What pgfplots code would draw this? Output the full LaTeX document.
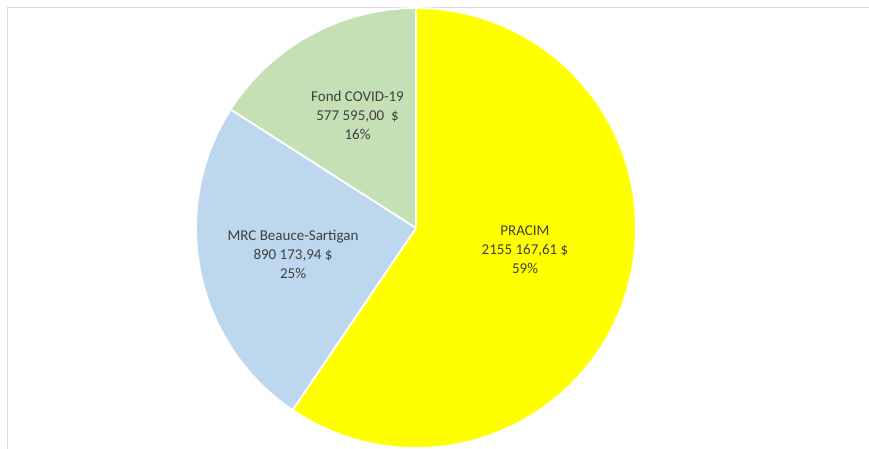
\documentclass[border=0pt]{standalone}
\usepackage{pgfplots}
\usepackage{pgfplotstable}
\pgfplotsset{compat=1.18}
\usepackage{fontspec}
\setmainfont{Carlito}
\definecolor{pieYellow}{HTML}{FFFF00}
\definecolor{pieBlue}{HTML}{BDD7EE}
\definecolor{pieGreen}{HTML}{C5E0B4}
\definecolor{labelGray}{HTML}{404040}
\definecolor{frameGray}{HTML}{D9D9D9}
% values of the three slices
\pgfplotstableread{
label value
PRACIM 2155167.61
MRC 890173.94
Fond 577595.00
}\piedata
\pgfplotstablegetelem{0}{value}\of{\piedata}\let\vA\pgfplotsretval
\pgfplotstablegetelem{1}{value}\of{\piedata}\let\vB\pgfplotsretval
\pgfplotstablegetelem{2}{value}\of{\piedata}\let\vC\pgfplotsretval
\edef\aA{\fpeval{360*\vA/(\vA+\vB+\vC)}}
\edef\aB{\fpeval{360*\vB/(\vA+\vB+\vC)}}
\edef\aC{\fpeval{360*\vC/(\vA+\vB+\vC)}}
\edef\eA{\fpeval{90-\aA}}
\edef\eB{\fpeval{90-\aA-\aB}}
\edef\eC{\fpeval{90-\aA-\aB-\aC}}
\begin{document}
\begin{tikzpicture}
\begin{axis}[
  scale only axis, width=869bp, height=449bp,
  xmin=0, xmax=869, ymin=0, ymax=449,
  hide axis, clip=true,
]
% chart frame
\draw[overlay, frameGray, line width=1.5bp] (axis cs:7.5,0) -- (axis cs:7.5,441.5) -- (axis cs:869,441.5);
% slices
\fill[overlay, pieYellow, draw=white, line width=1.8bp, line join=round] (axis cs:416,221) -- ++(90:220bp) arc[start angle=90, end angle=\eA, radius=220bp] -- cycle;
\fill[overlay, pieBlue, draw=white, line width=1.8bp, line join=round] (axis cs:416,221) -- ++(\eA:220bp) arc[start angle=\eA, end angle=\eB, radius=220bp] -- cycle;
\fill[overlay, pieGreen, draw=white, line width=1.8bp, line join=round] (axis cs:416,221) -- ++(\eB:220bp) arc[start angle=\eB, end angle=\eC, radius=220bp] -- cycle;
% labels
\node[overlay, align=center, text=labelGray, font=\fontsize{15bp}{19bp}\selectfont] at (axis cs:525,199) {PRACIM\\2155 167,61 \$\\59\%};
\node[overlay, align=center, text=labelGray, font=\fontsize{15bp}{19bp}\selectfont] at (axis cs:293,194.5) {MRC Beauce-Sartigan\\890 173,94 \$\\25\%};
\node[overlay, align=center, text=labelGray, font=\fontsize{15bp}{19bp}\selectfont] at (axis cs:357.5,333.5) {Fond COVID-19\\577 595,00~~\$\\16\%};
\end{axis}
\pgfresetboundingbox
\useasboundingbox (current axis.south west) rectangle (current axis.north east);
\end{tikzpicture}
\end{document}
